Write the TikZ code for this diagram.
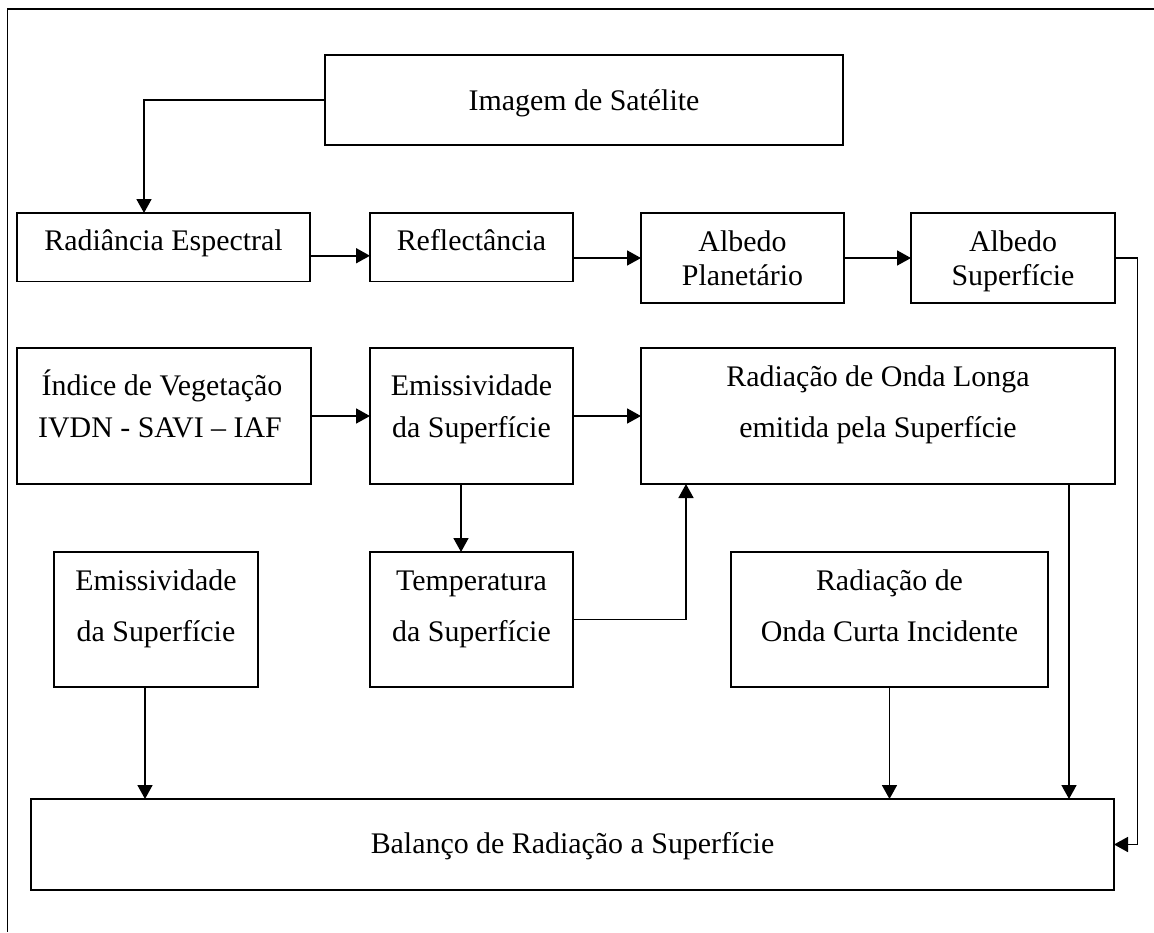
\documentclass[tikz,border=0pt]{standalone}
\usepackage{fontspec}
\setmainfont{Liberation Serif}
\usetikzlibrary{arrows.meta}
\begin{document}
\begin{tikzpicture}[x=1pt,y=-1pt,
  box/.style={draw,line width=1.8pt,inner sep=0pt,outer sep=0pt,rectangle},
  txt/.style={anchor=base,inner sep=0pt,outer sep=0pt,font=\fontsize{29.9}{34}\selectfont},
  arr/.style={line width=1.7pt,-{Triangle[width=15pt,length=14pt]}},
  frame/.style={line width=1.8pt}]
\useasboundingbox (0,0) rectangle (1154,932);
\draw[frame] (1154,9) -- (7.5,9) -- (7.5,932);
% boxes
\node[box,minimum width=518pt,minimum height=90pt] (img) at (584,100) {};
\node[box,minimum width=293pt,minimum height=68.5pt] (rad) at (163.5,247.25) {};
\node[box,minimum width=203pt,minimum height=68.5pt] (refl) at (471.5,247.25) {};
\node[box,minimum width=203pt,minimum height=90pt] (albP) at (742.5,258) {};
\node[box,minimum width=204pt,minimum height=90pt] (albS) at (1013,258) {};
\node[box,minimum width=294pt,minimum height=136pt] (ind) at (164,416) {};
\node[box,minimum width=203pt,minimum height=136pt] (emA) at (471.5,416) {};
\node[box,minimum width=474pt,minimum height=136pt] (rol) at (878,416) {};
\node[box,minimum width=204pt,minimum height=135pt] (emB) at (156,619.5) {};
\node[box,minimum width=203pt,minimum height=135pt] (temp) at (471.5,619.5) {};
\node[box,minimum width=317pt,minimum height=135pt] (roc) at (889.5,619.5) {};
\node[box,minimum width=1083pt,minimum height=91pt] (bal) at (572.5,844.5) {};
% texts
\node[txt] (imgT) at (584,110) {Imagem de Satélite};
\node[txt] (radT) at (163.5,250) {Radiância Espectral};
\node[txt] (reflT) at (471.5,250) {Reflectância};
\node[txt] (albPa) at (742.5,251) {Albedo};
\node[txt] (albPb) at (742.5,285) {Planetário};
\node[txt] (albSa) at (1013,251) {Albedo};
\node[txt] (albSb) at (1013,285) {Superfície};
\node[txt] (inda) at (162,395) {Índice de Vegetação};
\node[txt] (indb) at (160,437) {IVDN - SAVI – IAF};
\node[txt] (emAa) at (471.5,395) {Emissividade};
\node[txt] (emAb) at (471.5,437) {da Superfície};
\node[txt] (rola) at (878,386) {Radiação de Onda Longa};
\node[txt] (rolb) at (878,437) {emitida pela Superfície};
\node[txt] (emBa) at (156,590) {Emissividade};
\node[txt] (emBb) at (156,641) {da Superfície};
\node[txt] (tempa) at (471.5,590) {Temperatura};
\node[txt] (tempb) at (471.5,641) {da Superfície};
\node[txt] (roca) at (889.5,590) {Radiação de};
\node[txt] (rocb) at (889.5,641) {Onda Curta Incidente};
\node[txt] (balT) at (572.5,853) {Balanço de Radiação a Superfície};
% connectors
\draw[arr] (img.west) -| ([xshift=-19.5pt]rad.north);
\draw[arr] ([yshift=-8.5pt]rad.east) -- ([yshift=-8.5pt]refl.west);
\draw[arr] (refl.east |- albP.west) -- (albP.west);
\draw[arr] (albP.east) -- (albS.east -| albS.west);
\draw[arr] (albS.east) -- ++(22.5,0) |- (bal.east);
\draw[arr] (ind.east) -- (emA.west);
\draw[arr] (emA.east) -- (rol.west);
\draw[arr] ([xshift=-10.5pt]emA.south) -- ([xshift=-10.5pt]temp.north);
\draw[arr] (temp.east) -| ([xshift=-192pt]rol.south);
\draw[arr] ([xshift=-11pt]emB.south) -- ([xshift=-11pt]emB.south |- bal.north);
\draw[arr] (roc.south) -- (roc.south |- bal.north);
\draw[arr] ([xshift=191pt]rol.south) -- ([xshift=191pt]rol.south |- bal.north);
\end{tikzpicture}
\end{document}
